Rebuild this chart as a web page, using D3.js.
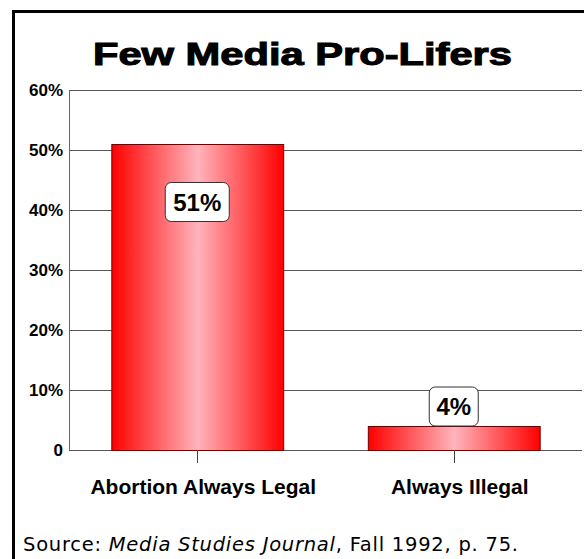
<!DOCTYPE html>
<html>
<head>
<meta charset="utf-8">
<script src="https://cdn.jsdelivr.net/npm/d3@7"></script>
<style>
  html, body { margin: 0; padding: 0; background: #fff; }
  svg { display: block; }
</style>
</head>
<body>
<svg id="chart" width="584" height="559"></svg>
<script>
// Chart data
const categories = ["Abortion Always Legal", "Always Illegal"];
const values = [51, 4];
const valueLabels = ["51%", "4%"];
const yTicks = [0, 10, 20, 30, 40, 50, 60];
const yTickLabels = ["0", "10%", "20%", "30%", "40%", "50%", "60%"];
const titleText = "Few Media Pro-Lifers";

const svg = d3.select("#chart");
const W = 584, H = 559;
const plot = { left: 69, right: 582, top: 90, bottom: 450 };

// Frame: top and left rules
svg.append("rect").attr("x", 12).attr("y", 10).attr("width", W - 12).attr("height", 3).attr("fill", "#000");
svg.append("rect").attr("x", 12).attr("y", 10).attr("width", 3).attr("height", H - 10).attr("fill", "#000");

// Title (heavy, extended)
svg.append("text")
  .attr("x", 93).attr("y", 65)
  .attr("font-family", "Liberation Sans, Arial, sans-serif")
  .attr("font-weight", "900")
  .attr("font-size", 32)
  .attr("textLength", 419)
  .attr("lengthAdjust", "spacingAndGlyphs")
  .attr("stroke", "#000").attr("stroke-width", 1.1)
  .text(titleText);

const x = d3.scaleBand().domain(categories).range([plot.left, plot.right]).paddingInner(0.33).paddingOuter(0.165);
const xc = d3.scaleBand().domain(categories).range([plot.left, plot.right]);
const y = d3.scaleLinear().domain([0, 60]).range([plot.bottom, plot.top]);

// Gridlines
svg.append("g").selectAll("line").data(yTicks).join("line")
  .attr("x1", plot.left).attr("x2", plot.right)
  .attr("y1", d => Math.round(y(d)) + 0.5).attr("y2", d => Math.round(y(d)) + 0.5)
  .attr("stroke", "#555").attr("stroke-width", 1);

// Y axis line
svg.append("line")
  .attr("x1", plot.left + 0.5).attr("x2", plot.left + 0.5)
  .attr("y1", plot.top).attr("y2", plot.bottom)
  .attr("stroke", "#666");

// Y axis labels
svg.append("g").selectAll("text").data(yTicks).join("text")
  .attr("x", 63).attr("y", d => y(d) + 6)
  .attr("text-anchor", "end")
  .attr("font-family", "Liberation Sans, Arial, sans-serif")
  .attr("font-weight", "bold").attr("font-size", 17)
  .text((d, i) => yTickLabels[i]);

// Bar gradient
const defs = svg.append("defs");
const grad = defs.append("linearGradient").attr("id", "barGrad").attr("x1", "0").attr("x2", "1").attr("y1", "0").attr("y2", "0");
grad.append("stop").attr("offset", "0%").attr("stop-color", "#ff0000");
grad.append("stop").attr("offset", "50%").attr("stop-color", "#ffb4bc");
grad.append("stop").attr("offset", "100%").attr("stop-color", "#ff0000");

// Bars
svg.append("g").selectAll("rect").data(values).join("rect")
  .attr("x", (d, i) => x(categories[i]) + 0.5)
  .attr("y", d => y(d) + 0.5)
  .attr("width", x.bandwidth())
  .attr("height", d => y(0) - y(d))
  .attr("fill", "url(#barGrad)")
  .attr("stroke", "#6e0000").attr("stroke-width", 1);

// Category ticks
svg.append("g").selectAll("line").data(categories).join("line")
  .attr("x1", d => Math.round(xc(d) + xc.bandwidth() / 2) + 0.5)
  .attr("x2", d => Math.round(xc(d) + xc.bandwidth() / 2) + 0.5)
  .attr("y1", plot.bottom).attr("y2", plot.bottom + 13)
  .attr("stroke", "#444");

// Category labels
svg.append("g").selectAll("text").data(categories).join("text")
  .attr("x", d => xc(d) + xc.bandwidth() / 2 + 6)
  .attr("y", 494)
  .attr("text-anchor", "middle")
  .attr("font-family", "Liberation Sans, Arial, sans-serif")
  .attr("font-weight", "bold").attr("font-size", 21)
  .text(d => d);

// Value label boxes
const labels = svg.append("g").selectAll("g").data(values).join("g")
  .attr("transform", (d, i) => {
    const cx = xc(categories[i]) + xc.bandwidth() / 2;
    const bh = 39;
    // tall bars hold the label inside, short bars carry it on top
    const cy = (y(0) - y(d) > 2 * bh) ? y(d) + bh + bh / 2 - 0.5 : y(d) - bh / 2;
    return `translate(${cx},${cy})`;
  });
labels.append("rect")
  .attr("x", (d, i) => i === 0 ? -32 : -24.5)
  .attr("y", -19.5)
  .attr("width", (d, i) => i === 0 ? 64 : 49)
  .attr("height", 39)
  .attr("rx", 6).attr("ry", 6)
  .attr("fill", "#fff").attr("stroke", "#333").attr("stroke-width", 1);
labels.append("text")
  .attr("y", 8.5)
  .attr("text-anchor", "middle")
  .attr("font-family", "Liberation Sans, Arial, sans-serif")
  .attr("font-weight", "bold").attr("font-size", 24)
  .text((d, i) => valueLabels[i]);

// Source note
const src = svg.append("text")
  .attr("x", 23).attr("y", 551)
  .attr("font-family", "DejaVu Sans, Noto Sans, sans-serif")
  .attr("font-size", 19.5)
  .attr("textLength", 495)
  .attr("lengthAdjust", "spacing");
src.append("tspan").text("Source: ");
src.append("tspan").attr("font-style", "italic").text("Media Studies Journal");
src.append("tspan").text(", Fall 1992, p. 75.");
</script>
</body>
</html>
